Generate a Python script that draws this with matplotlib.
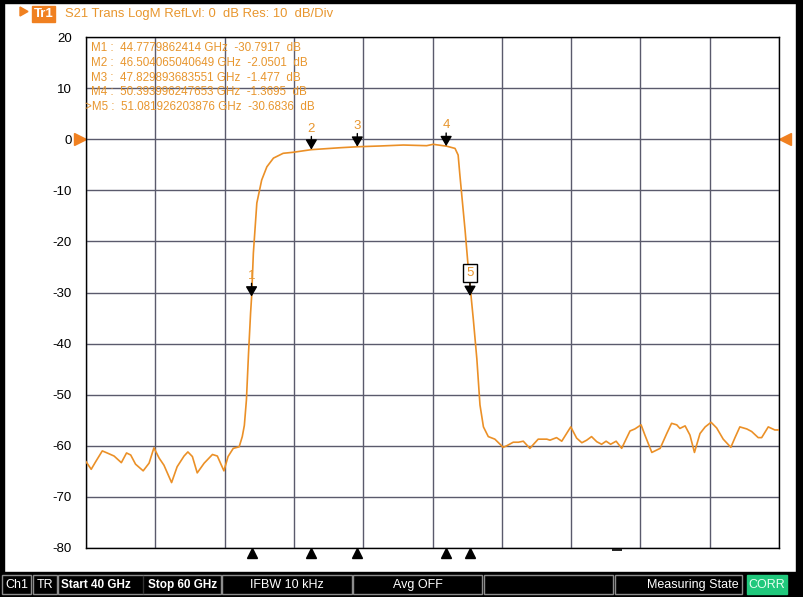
import matplotlib
matplotlib.use("Agg")
import matplotlib.pyplot as plt
from matplotlib.patches import Rectangle, Polygon
from matplotlib.transforms import blended_transform_factory

plt.rcParams["font.family"] = ["Liberation Sans", "DejaVu Sans"]

# Trace (GHz, dB)
freq_ghz = [40.00, 40.15, 40.28, 40.47, 40.61, 40.81, 41.02, 41.17, 41.29, 41.43,
            41.65, 41.82, 41.96, 42.11, 42.25, 42.47, 42.63, 42.83, 42.94, 43.07,
            43.21, 43.41, 43.65, 43.79, 43.98, 44.10, 44.25, 44.42, 44.51, 44.57,
            44.63, 44.69, 44.75, 44.78, 44.83, 44.93, 45.07, 45.22, 45.41, 45.69,
            45.98, 46.50, 47.33, 47.83, 48.48, 49.16, 49.83, 50.02, 50.41, 50.65,
            50.74, 50.79, 50.84, 50.94, 51.03, 51.10, 51.18, 51.28, 51.37, 51.47,
            51.61, 51.80, 52.04, 52.14, 52.33, 52.48, 52.62, 52.81, 53.05, 53.30,
            53.39, 53.58, 53.73, 53.99, 54.16, 54.31, 54.45, 54.59, 54.74, 54.88,
            55.01, 55.14, 55.30, 55.46, 55.60, 55.70, 55.84, 56.02, 56.13, 56.33,
            56.57, 56.76, 56.90, 57.05, 57.14, 57.29, 57.43, 57.56, 57.72, 57.87,
            58.04, 58.20, 58.39, 58.61, 58.73, 58.87, 59.07, 59.21, 59.40, 59.50,
            59.69, 59.88, 60.00]
s21_db = [-63.1, -64.6, -63.1, -61.0, -61.4, -62.0, -63.3, -61.4, -61.8, -63.6,
          -64.9, -63.4, -60.4, -62.4, -63.8, -67.2, -64.1, -62.0, -61.2, -62.1,
          -65.3, -63.4, -61.7, -62.0, -64.9, -62.1, -60.5, -60.2, -58.2, -56.0,
          -51.0, -42.0, -34.0, -30.8, -22.3, -12.5, -8.0, -5.4, -3.7, -2.76,
          -2.56, -2.05, -1.67, -1.48, -1.33, -1.14, -1.27, -1.0, -1.37, -1.8,
          -3.1, -7.0, -10.6, -17.8, -25.0, -29.8, -35.4, -43.0, -52.0, -56.3,
          -58.2, -58.7, -60.3, -60.0, -59.3, -59.3, -59.1, -60.5, -58.7, -58.7,
          -58.9, -58.4, -59.1, -56.3, -58.5, -59.4, -58.9, -58.2, -59.2, -59.7,
          -59.1, -59.7, -59.1, -60.5, -58.5, -57.1, -56.7, -55.9, -57.9, -61.3,
          -60.5, -57.6, -55.6, -55.9, -56.6, -56.1, -57.9, -61.3, -57.6, -56.3,
          -55.4, -56.5, -58.7, -60.3, -58.4, -56.3, -56.7, -57.2, -58.4, -58.4,
          -56.3, -56.9, -56.9]

marker_freq = [44.7779862414, 46.504065040649, 47.829893683551, 50.393996247653, 51.081926203876]
marker_db = [-30.7917, -2.0501, -1.477, -1.3695, -30.6836]
marker_freq_txt = ["44.7779862414", "46.504065040649", "47.829893683551", "50.393996247653", "51.081926203876"]
marker_db_txt = ["-30.7917", "-2.0501", "-1.477", "-1.3695", "-30.6836"]
active_marker = 5

yticks = list(range(20, -81, -10))
header = "S21 Trans LogM RefLvl: 0  dB Res: 10  dB/Div"

ORANGE = "#E8962E"
TRACE = "#EB9027"
GRID = "#5A5A6C"

W, H = 804, 597
fig = plt.figure(figsize=(W / 100, H / 100), dpi=100, facecolor="white")

# overlay in pixel coords for the instrument chrome
ov = fig.add_axes([0, 0, 1, 1], zorder=0)
ov.set_xlim(0, W)
ov.set_ylim(H, 0)
ov.axis("off")

ov.add_patch(Rectangle((0, 0), W, 3, color="black"))
ov.add_patch(Rectangle((0, 0), 4, H, color="black"))
ov.add_patch(Rectangle((796, 0), 8, H, color="black"))
ov.add_patch(Rectangle((0, 572), W, 25, color="black"))

# header
ov.add_patch(Polygon([[20, 7], [28, 11.5], [20, 16]], color="#F08020"))
ov.add_patch(Rectangle((32, 6), 23, 16, color="#F08020"))
ov.text(43.5, 14, "Tr1", color="white", fontsize=9.5, fontweight="bold", ha="center", va="center")
ov.text(65, 14, header, color=ORANGE, fontsize=9.4, ha="left", va="center")

# status bar
boxes = [(2, 31, "Ch1"), (33, 57, "TR"), (58, 221, None), (222, 352, "IFBW 10 kHz"),
         (353, 482, "Avg OFF"), (484, 613, ""), (615, 742, None)]
for x0, x1, lab in boxes:
    ov.add_patch(Rectangle((x0, 575), x1 - x0, 19, fill=False, edgecolor="#8C8C8C", lw=1))
    if lab:
        ov.text((x0 + x1) / 2, 585, lab, color="white", fontsize=9, ha="center", va="center")
ov.plot([143, 143], [576, 593], color="#333333", lw=1)
ov.text(96, 585, "Start 40 GHz", color="white", fontsize=8.5, fontweight="bold", ha="center", va="center")
ov.text(183, 585, "Stop 60 GHz", color="white", fontsize=8.5, fontweight="bold", ha="center", va="center")
ov.text(739, 585, "Measuring State", color="white", fontsize=9, ha="right", va="center")
ov.add_patch(Rectangle((747, 575), 40, 19, color="#20C87C"))
ov.text(767, 585, "CORR", color="#E8FFF0", fontsize=9, ha="center", va="center")

# main plot area
left, right, top, bottom = 86, 779, 37, 548
ax = fig.add_axes([left / W, 1 - bottom / H, (right - left) / W, (bottom - top) / H], zorder=1)
ax.set_xlim(40, 60)
ax.set_ylim(-80, 20)
ax.set_xticks([40 + 2 * i for i in range(11)])
ax.set_yticks(yticks)
ax.set_xticklabels([])
ax.set_yticklabels([str(t) for t in yticks], fontsize=9.5)
ax.tick_params(length=0, pad=10)
ax.grid(True, color=GRID, lw=1)
ax.set_axisbelow(True)
for s in ax.spines.values():
    s.set_color("black")
    s.set_linewidth(1)

ax.plot(freq_ghz, s21_db, color=TRACE, lw=1.2, zorder=3)

# marker readout (top layer, pixel coords)
top_ov = fig.add_axes([0, 0, 1, 1], zorder=2)
top_ov.set_xlim(0, W)
top_ov.set_ylim(H, 0)
top_ov.axis("off")
for i in range(len(marker_freq)):
    prefix = ">" if i + 1 == active_marker else ""
    line = f"{prefix}M{i + 1} :  {marker_freq_txt[i]} GHz  {marker_db_txt[i]}  dB"
    top_ov.text(91 if not prefix else 85, 48 + i * 14.8, line, color=ORANGE, fontsize=8.4,
                ha="left", va="center")

# marker arrows and numbers
for i, (f, v) in enumerate(zip(marker_freq, marker_db)):
    ax.annotate("", xy=(f, v), xytext=(0, 9.5), textcoords="offset points",
                arrowprops=dict(arrowstyle="-|>,head_length=0.6,head_width=0.35", color="black",
                                lw=1, shrinkA=0, shrinkB=0, mutation_scale=10), zorder=4)
    if i + 1 == active_marker:
        ax.annotate(str(i + 1), xy=(f, v), xytext=(0, 16.5), textcoords="offset points",
                    ha="center", va="center", color=ORANGE, fontsize=9.5, zorder=5,
                    bbox=dict(boxstyle="square,pad=0.25", fc="white", ec="black", lw=1))
    else:
        ax.annotate(str(i + 1), xy=(f, v), xytext=(0, 15), textcoords="offset points",
                    ha="center", va="center", color=ORANGE, fontsize=9.5, zorder=5)

# marker position ticks under the grid
bx = blended_transform_factory(ax.transData, ax.transAxes)
ax.plot(marker_freq, [-0.0098] * len(marker_freq), transform=bx, ls="none", marker="^",
        ms=7, color="black", clip_on=False)
ax.plot([55.33], [-0.003], transform=bx, ls="none", marker="_", ms=7, mew=1.2,
        color="black", clip_on=False)

# reference level arrows
by = blended_transform_factory(ax.transAxes, ax.transData)
ax.plot([-0.009], [0], transform=by, marker=">", ms=8, color="#F08020", clip_on=False, ls="none")
ax.plot([1.009], [0], transform=by, marker="<", ms=8, color="#F08020", clip_on=False, ls="none")

fig.savefig("out.png", dpi=100, facecolor="white")
